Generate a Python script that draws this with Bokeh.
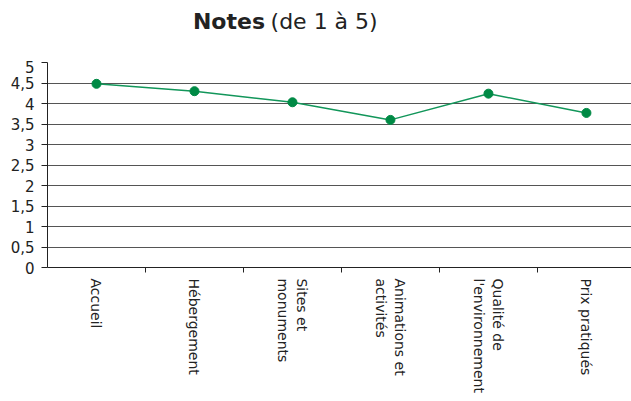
import math
from bokeh.plotting import figure
from bokeh.layouts import column
from bokeh.models import Range1d, FixedTicker, ColumnDataSource, Label
from bokeh.embed import file_html
from bokeh.resources import INLINE

# ---- data ----
categories = ["Accueil", "Hébergement", "Sites et\nmonuments", "Animations et\nactivités",
              "Qualité de\nl'environnement", "Prix pratiqués"]
scores = [4.48, 4.30, 4.03, 3.60, 4.24, 3.77]
y_ticks = [0.0, 0.5, 1.0, 1.5, 2.0, 2.5, 3.0, 3.5, 4.0, 4.5, 5.0]
y_tick_labels = ["0", "0,5", "1", "1,5", "2", "2,5", "3", "3,5", "4", "4,5", "5"]
title_bold = "Notes"
title_rest = "(de 1 à 5)"

FONT = "DejaVu Sans"
TEXT = "#222222"
GREEN_LINE = "#12965a"
GREEN_DOT = "#008a45"

n = len(categories)
xs = [i + 0.5 for i in range(n)]
bounds = [float(i) for i in range(1, n)]
src = ColumnDataSource(dict(x=xs, y=scores))

# ---- title strip (its own small figure, pixel coordinates) ----
W = 631
TH = 60
t = figure(width=W, height=TH, output_backend="svg", toolbar_location=None,
           x_range=Range1d(0, W), y_range=Range1d(0, TH),
           x_axis_type=None, y_axis_type=None, min_border=0)
t.outline_line_color = None
t.xgrid.visible = False
t.ygrid.visible = False
t.add_layout(Label(x=235, y=TH - 21, text=title_bold,
                   text_align="right", text_baseline="alphabetic", text_font=FONT,
                   text_font_style="bold", text_font_size="22px", text_color=TEXT))
t.add_layout(Label(x=241, y=TH - 21, text=title_rest,
                   text_align="left", text_baseline="alphabetic", text_font=FONT,
                   text_font_size="22px", text_color=TEXT))

# ---- main chart ----
p = figure(width=W, height=341, output_backend="svg", toolbar_location=None,
           x_range=Range1d(0, 5.96), y_range=Range1d(0, 5),
           min_border_left=47, min_border_right=0, min_border_top=2, min_border_bottom=134)
p.outline_line_color = None
p.background_fill_color = "white"
p.border_fill_color = "white"

# grid
p.xgrid.visible = False
p.ygrid.ticker = FixedTicker(ticks=y_ticks)
p.ygrid.grid_line_color = "#555555"
p.ygrid.grid_line_width = 1

# y axis
ya = p.yaxis[0]
ya.ticker = FixedTicker(ticks=y_ticks)
ya.major_label_overrides = dict(zip(y_ticks, y_tick_labels))
ya.axis_line_color = "#222222"
ya.major_tick_line_color = "#222222"
ya.major_tick_out = 6
ya.major_tick_in = 0
ya.minor_tick_line_color = None
ya.major_label_standoff = 7
ya.major_label_text_font = FONT
ya.major_label_text_font_size = "15px"
ya.major_label_text_color = TEXT

# x axis: labels at category centres, tick marks at category boundaries
xa = p.xaxis[0]
xa.ticker = FixedTicker(ticks=xs, minor_ticks=bounds)
xa.major_label_overrides = dict(zip(xs, categories))
xa.major_label_orientation = -math.pi / 2
xa.axis_line_color = "#222222"
xa.major_tick_line_color = None
xa.major_tick_out = 0
xa.major_tick_in = 0
xa.minor_tick_line_color = "#222222"
xa.minor_tick_out = 5
xa.minor_tick_in = 0
xa.major_label_standoff = 6
xa.major_label_text_font = FONT
xa.major_label_text_font_size = "14px"
xa.major_label_text_color = TEXT

# series
p.line("x", "y", source=src, line_color=GREEN_LINE, line_width=1.5)
p.scatter("x", "y", source=src, size=9, fill_color=GREEN_DOT, line_color=GREEN_DOT)

layout = column(t, p, spacing=0)
open("out.html", "w").write(file_html(layout, INLINE))
